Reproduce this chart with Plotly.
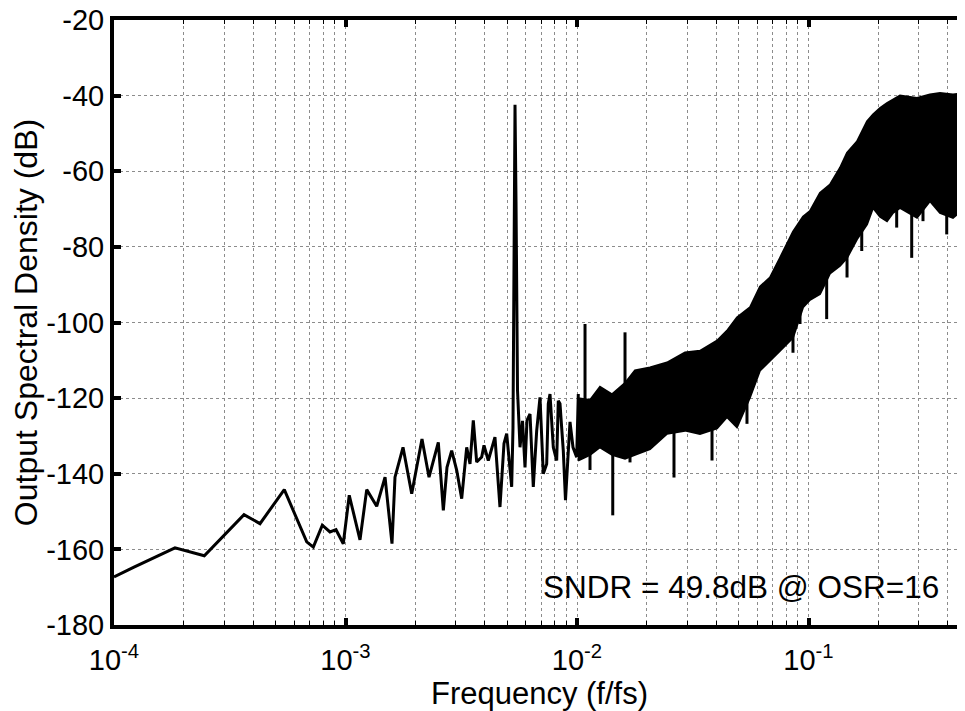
import numpy as np
import plotly.graph_objects as go

# low-frequency part of the spectrum (single line)
f_low = [1.0e-4, 1.22e-4, 1.834e-4, 2.455e-4, 3.644e-4, 4.272e-4, 5.44e-4, 6.80e-4, 7.26e-4, 7.94e-4,
         8.57e-4, 9.10e-4, 9.78e-4, 1.038e-3, 1.155e-3, 1.235e-3, 1.364e-3, 1.482e-3, 1.588e-3, 1.636e-3,
         1.772e-3, 1.932e-3, 2.140e-3, 2.295e-3, 2.517e-3, 2.646e-3, 2.744e-3, 2.875e-3, 3.023e-3, 3.176e-3,
         3.338e-3, 3.450e-3, 3.565e-3, 3.687e-3, 3.875e-3, 3.965e-3, 4.138e-3, 4.422e-3, 4.648e-3, 4.838e-3,
         4.969e-3, 5.084e-3, 5.222e-3, 5.290e-3, 5.344e-3, 5.398e-3, 5.452e-3, 5.534e-3, 5.673e-3, 5.816e-3,
         5.963e-3, 6.081e-3, 6.266e-3, 6.474e-3, 6.697e-3, 6.921e-3, 7.151e-3, 7.397e-3, 7.515e-3, 7.645e-3,
         7.899e-3, 8.171e-3, 8.302e-3, 8.444e-3, 8.725e-3, 8.918e-3, 9.328e-3, 9.610e-3, 9.970e-3, 1.013e-2]
psd_low = [-167.3, -164.7, -159.6, -161.7, -150.8, -153.2, -144.2, -158.0, -159.4, -153.6,
           -155.4, -154.8, -158.5, -145.7, -157.5, -144.2, -148.6, -140.9, -158.5, -140.9,
           -133.0, -145.3, -130.8, -140.9, -131.7, -149.7, -138.3, -133.9, -139.1, -146.6,
           -133.0, -137.4, -125.9, -136.9, -135.6, -132.5, -136.5, -130.3, -148.8, -132.0,
           -129.4, -136.0, -143.5, -128.0, -88.0, -42.4, -68.0, -118.0, -133.0, -126.0,
           -138.3, -125.9, -124.2, -143.5, -128.6, -119.8, -140.0, -137.4, -121.5, -118.9,
           -133.0, -136.5, -120.7, -121.5, -133.9, -147.0, -126.3, -133.0, -135.6, -118.9]

# high-frequency part: dense noise band, upper / lower envelope
f_band = [0.0101, 0.01138, 0.01257, 0.01417, 0.01612, 0.0178, 0.02067, 0.02448, 0.02928, 0.03398,
          0.04025, 0.04444, 0.04909, 0.05588, 0.06172, 0.0682, 0.0753, 0.0857, 0.09467, 0.1015,
          0.1121, 0.1239, 0.1368, 0.1467, 0.162, 0.179, 0.19, 0.2037, 0.2183, 0.2317,
          0.2484, 0.2942, 0.3347, 0.3698, 0.4209, 0.4742, 0.5]
band_top = [-120, -120.5, -117, -119, -116, -112.7, -111.9, -110.6, -107.9, -107.5,
            -104.8, -102.2, -98.7, -96.0, -90.5, -88.1, -82.9, -76, -72, -70.5,
            -65.7, -63.5, -59.1, -55.1, -52.1, -46.8, -45, -43.3, -42, -41.1,
            -40, -40.6, -39.7, -39.3, -39.7, -39.3, -40]
band_bot = [-136.5, -135, -133, -135, -136, -135, -133.5, -129.4, -128.6, -129.5,
            -128, -125, -127.7, -119.8, -112.7, -110.1, -107.5, -104, -96, -94,
            -92.5, -87, -85, -82.9, -78, -74, -69.7, -72, -73.2, -71,
            -69.7, -72.3, -67.9, -71, -72.3, -69.7, -70]

# isolated spurs and dips sticking out of the band
spur_f = [0.01083, 0.01612, 0.01138, 0.01427, 0.01694, 0.02624, 0.0383, 0.05423, 0.0857,
          0.0919, 0.1198, 0.1467, 0.1698, 0.2404, 0.2791, 0.3123, 0.3954, 0.4512]
spur_lo = [-128, -125, -139, -151, -137, -141, -136.5, -126.8, -108,
           -100.4, -99.1, -88.1, -81.1, -74.9, -82.9, -73.2, -76.7, -81.5]
spur_hi = [-100.4, -102.6, -128, -128, -128, -125, -120, -115, -98,
           -90, -85, -75, -70, -62, -62, -62, -62, -62]

y_ticks = list(range(-180, -19, 20))
x_ticks = [1e-4, 1e-3, 1e-2, 1e-1]
x_labels = ["10<sup>-4</sup>", "10<sup>-3</sup>", "10<sup>-2</sup>", "10<sup>-1</sup>"]

font = "Arial, Liberation Sans, sans-serif"

fig = go.Figure()

fig.add_trace(go.Scatter(x=f_low, y=psd_low, mode="lines",
                         line=dict(color="black", width=3), showlegend=False))

fig.add_trace(go.Scatter(x=f_band + f_band[::-1], y=band_top + band_bot[::-1],
                         mode="lines", fill="toself", fillcolor="black",
                         line=dict(color="black", width=2), showlegend=False))

sx, sy = [], []
for f, lo, hi in zip(spur_f, spur_lo, spur_hi):
    sx += [f, f, None]
    sy += [lo, hi, None]
fig.add_trace(go.Scatter(x=sx, y=sy, mode="lines",
                         line=dict(color="black", width=3), showlegend=False))

minors = [m * d for d in x_ticks for m in range(2, 10)]
grid = dict(showgrid=True, gridcolor="#8c8c8c", griddash="dot", gridwidth=1)

# page body has an 8px margin, so the figure is sized 8px smaller
fig.update_layout(
    width=957, height=703,
    margin=dict(l=106, r=0, t=12, b=86),
    plot_bgcolor="white", paper_bgcolor="white",
    font=dict(family=font, size=29, color="black"),
    annotations=[dict(x=np.log10(7.0e-3), y=-170, xref="x", yref="y",
                      text="SNDR = 49.8dB @ OSR=16", showarrow=False,
                      xanchor="left", yanchor="middle",
                      font=dict(family=font, size=31.5, color="black"))],
)

fig.update_xaxes(
    type="log", range=[-4, -0.324], automargin=False,
    tickvals=x_ticks, ticktext=x_labels, ticklabelstandoff=6, ticklabeloverflow="allow",
    ticks="inside", ticklen=7, tickwidth=4, tickcolor="black",
    showline=True, linewidth=4, linecolor="black", mirror="allticks",
    minor=dict(tickvals=minors, ticks="inside", ticklen=4, tickwidth=1, tickcolor="black", **grid),
    title=dict(text="Frequency (f/fs)", font=dict(size=31), standoff=2),
    zeroline=False, **grid,
)

fig.update_yaxes(
    range=[-180, -20], automargin=False,
    tickvals=y_ticks, ticktext=[str(v) for v in y_ticks], ticklabeloverflow="allow",
    ticks="inside", ticklen=7, tickwidth=4, tickcolor="black",
    showline=True, linewidth=4, linecolor="black",
    title=dict(text="Output Spectral Density (dB)", font=dict(size=32), standoff=8),
    zeroline=False, **grid,
)

fig.write_html("out.html")
